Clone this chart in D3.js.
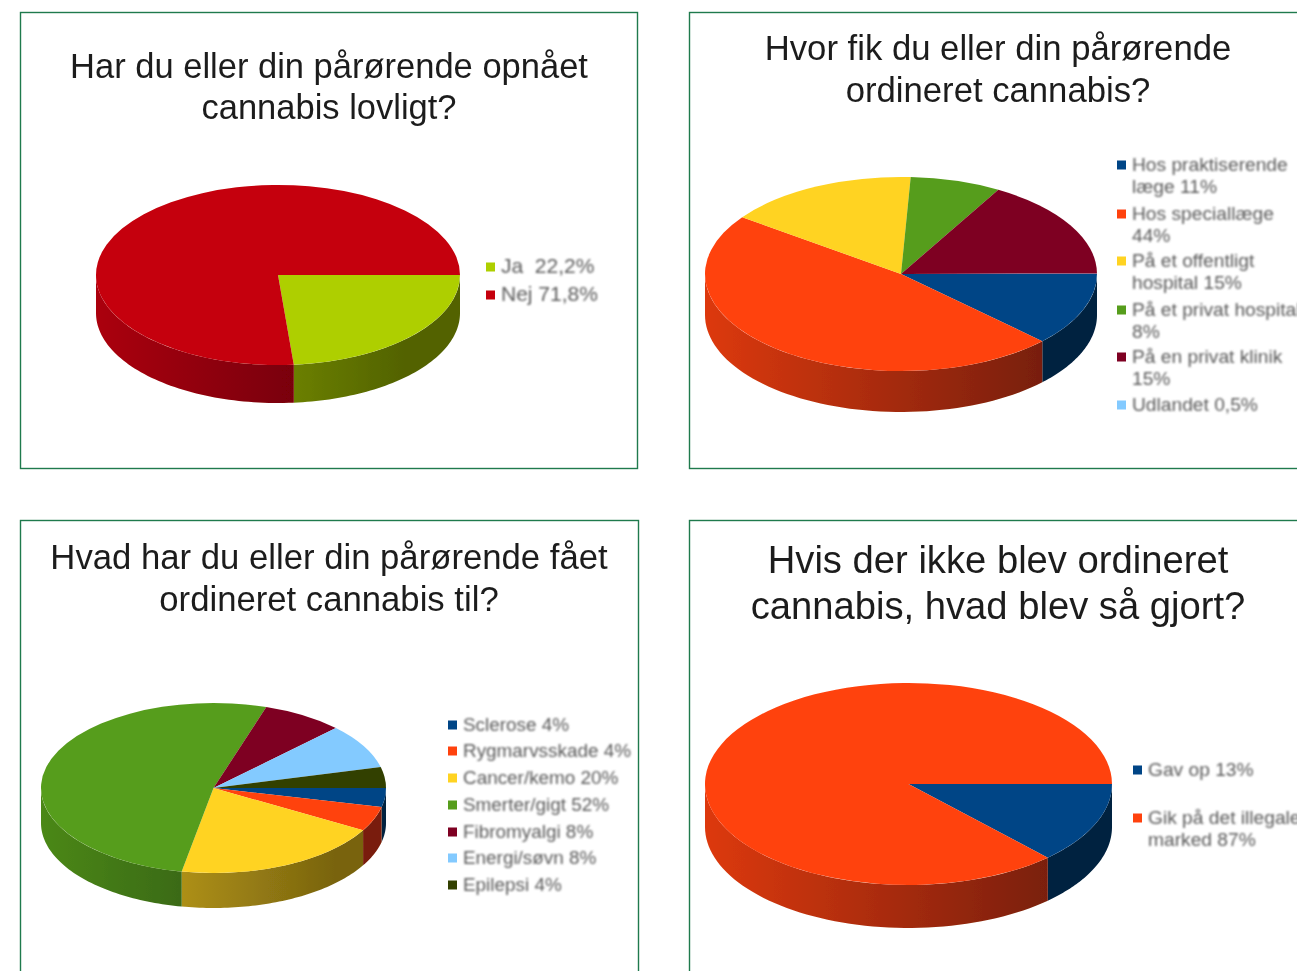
<!DOCTYPE html>
<html><head><meta charset="utf-8">
<script src="https://cdn.jsdelivr.net/npm/d3@7"></script>
<style>html,body{margin:0;padding:0;background:#fff;overflow:hidden}svg{display:block}</style>
</head><body><svg id="c" width="1297" height="971"></svg>
<script>
// Chart 1
const titles1 = ["Har du eller din pårørende opnået", "cannabis lovligt?"];
const labels1 = [["Ja  22,2%"], ["Nej 71,8%"]];
const values1 = [22.2, 71.8];
const colors1 = ["#aecf00", "#c5000b"];
// Chart 2 (slice sizes)
const titles2 = ["Hvor fik du eller din pårørende", "ordineret cannabis?"];
const labels2 = [["Hos praktiserende", "læge 11%"], ["Hos speciallæge", "44%"], ["På et offentligt", "hospital 15%"], ["På et privat hospital", "8%"], ["På en privat klinik", "15%"], ["Udlandet 0,5%"]];
const values2 = [11.4, 44.7, 14.8, 7, 15.6, 0.05];
const colors2 = ["#004586", "#ff420e", "#ffd320", "#579d1c", "#7e0021", "#83caff"];
// Chart 3 (slice sizes)
const titles3 = ["Hvad har du eller din pårørende fået", "ordineret cannabis til?"];
const labels3 = [["Sclerose 4%"], ["Rygmarvsskade 4%"], ["Cancer/kemo 20%"], ["Smerter/gigt 52%"], ["Fibromyalgi 8%"], ["Energi/søvn 8%"], ["Epilepsi 4%"]];
const values3 = [3.6, 4.7, 19.65, 52, 7.6, 8.5, 3.95];
const colors3 = ["#004586", "#ff420e", "#ffd320", "#579d1c", "#7e0021", "#83caff", "#314004"];
// Chart 4
const titles4 = ["Hvis der ikke blev ordineret", "cannabis, hvad blev så gjort?"];
const labels4 = [["Gav op 13%"], ["Gik på det illegale", "marked 87%"]];
const values4 = [13, 87];
const colors4 = ["#004586", "#ff420e"];

const layouts = [
 {box:[20,12,617,456], tx:329, ty:[78,119], tf:34.5, cx:278, cy:275, rx:182, ry:90, d:38, lx:486, ly:[267,295], lh:22, lf:21, titles:titles1, labels:labels1, values:values1, colors:colors1},
 {box:[689,12,640,456], tx:998, ty:[60,102], tf:34.7, cx:901, cy:274, rx:196, ry:97, d:41, lx:1117, ly:[165,214,261,310,357,405], lh:22, lf:19.2, titles:titles2, labels:labels2, values:values2, colors:colors2},
 {box:[20,520,618,480], tx:329, ty:[569,611], tf:34.7, cx:213.5, cy:788, rx:172.5, ry:85, d:35, lx:448, ly:[725,751,778,805,832,858,885], lh:22, lf:18.9, titles:titles3, labels:labels3, values:values3, colors:colors3},
 {box:[689,520,640,480], tx:998, ty:[573,619], tf:38.2, cx:908.5, cy:784, rx:203.5, ry:101, d:43, lx:1133, ly:[770,818], lh:22, lf:19.2, titles:titles4, labels:labels4, values:values4, colors:colors4}
];

const svg = d3.select("#c");
const defs = svg.append("defs");
defs.append("filter").attr("id","soft").append("feGaussianBlur").attr("stdDeviation",0.6);
defs.append("filter").attr("id","softer").append("feGaussianBlur").attr("stdDeviation",1);
defs.append("filter").attr("id","edge").append("feGaussianBlur").attr("stdDeviation",0.7);
svg.append("rect").attr("width",1297).attr("height",971).attr("fill","#fff");

layouts.forEach((L,i)=>{
  const g = svg.append("g");
  g.append("rect").attr("x",L.box[0]+.5).attr("y",L.box[1]+.5).attr("width",L.box[2]).attr("height",L.box[3])
    .attr("fill","#fff").attr("stroke","#1f7a4d").attr("stroke-width",1.4);
  g.selectAll("text.t").data(L.titles).join("text").attr("class","t")
    .attr("x",L.tx).attr("y",(d,k)=>L.ty[k]).attr("text-anchor","middle")
    .attr("font-family","'Liberation Sans',Arial,sans-serif").attr("font-size",L.tf).attr("fill","#1c1c1c")
    .attr("filter","url(#soft)").text(d=>d);

  const arcs = d3.pie().sort(null).startAngle(Math.PI/2).endAngle(Math.PI*2.5)(L.values);
  const pie = g.append("g").attr("filter","url(#edge)");

  const X = d3.scaleLinear().domain([-1,1]).range([L.cx-L.rx,L.cx+L.rx]);
  const Y = d3.scaleLinear().domain([-1,1]).range([L.cy-L.ry,L.cy+L.ry]);
  const wall = d3.area().x(a=>X(Math.cos(a))).y0(a=>Y(Math.sin(a))).y1(a=>Y(Math.sin(a))+L.d);
  arcs.forEach((s,k)=>{
    const id = `w${i}_${k}`;
    const col = d3.color(L.colors[k]);
    const gr = defs.append("linearGradient").attr("id",id).attr("gradientUnits","userSpaceOnUse")
      .attr("x1",L.cx-L.rx).attr("x2",L.cx+L.rx*0.7).attr("y1",0).attr("y2",0);
    gr.append("stop").attr("offset",0).attr("stop-color",col.darker(0.4).formatHex());
    gr.append("stop").attr("offset",1).attr("stop-color",col.darker(2.1).formatHex());
    const a0 = s.startAngle-Math.PI/2, a1 = Math.min(s.endAngle-Math.PI/2, Math.PI);
    if (a1 <= a0) return;
    const n = 60, pts = d3.range(n+1).map(j=>a0+(a1-a0)*j/n);
    pie.append("path").attr("d",wall(pts)).attr("fill",`url(#${id})`);
  });
  const top = pie.append("g").attr("transform",`translate(${L.cx},${L.cy}) scale(1,${L.ry/L.rx})`);
  top.selectAll("path").data(arcs).join("path")
    .attr("d",d3.arc().innerRadius(0).outerRadius(L.rx))
    .attr("fill",(d,k)=>L.colors[k]);

  L.labels.forEach((lines,k)=>{
    g.append("rect").attr("x",L.lx).attr("y",L.ly[k]-4.5).attr("width",9).attr("height",9)
      .attr("fill",L.colors[k]).attr("filter","url(#edge)");
    lines.forEach((t,m)=>{
      g.append("text").attr("x",L.lx+15).attr("y",L.ly[k]+6+m*L.lh).attr("xml:space","preserve")
       .style("white-space","pre")
       .attr("font-family","'Liberation Sans',Arial,sans-serif").attr("font-size",L.lf).attr("fill","#5a5a5a")
       .attr("filter","url(#softer)").text(t);
    });
  });
});
</script></body></html>
